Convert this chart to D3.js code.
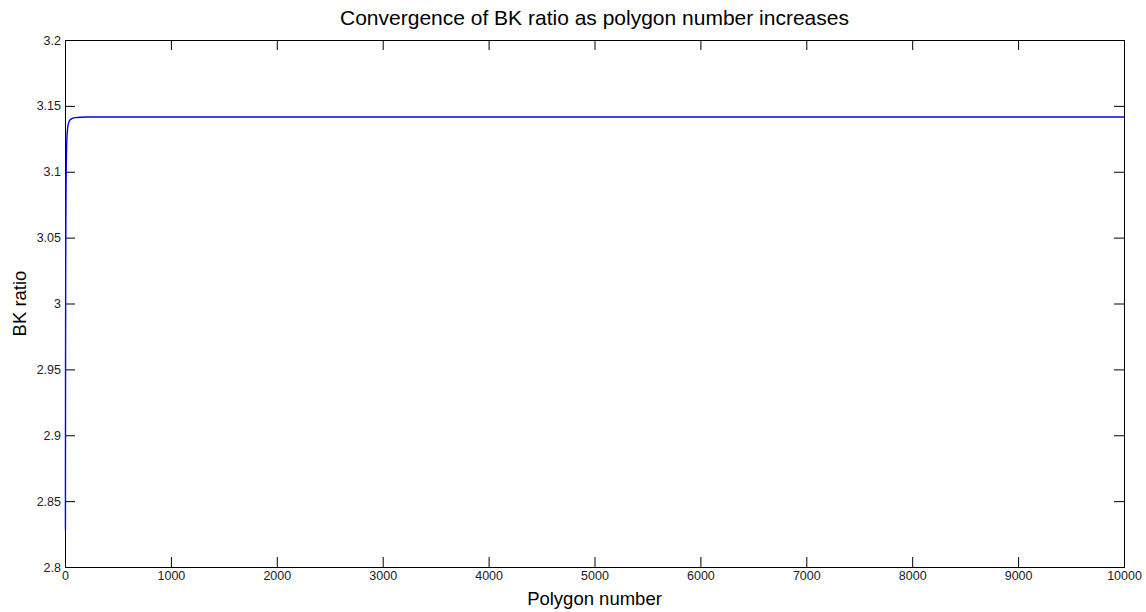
<!DOCTYPE html>
<html>
<head>
<meta charset="utf-8">
<script src="https://cdn.jsdelivr.net/npm/d3@7"></script>
<style>
  body { margin: 0; background: #fff; }
  text { font-family: "Liberation Sans", Arial, sans-serif; }
</style>
</head>
<body>
<div id="canvas"></div>
<script>
  const w = 1146;
  const h = 612;
  const margin = { top: 40, bottom: 45, left: 65, right: 22 };

  // polygon number (sides) and the BK ratio
  const polygonNumber = [4, 5, 6, 7, 8, 10, 12, 15, 20, 25, 30, 40, 50, 70, 100, 150, 200, 400, 1000, 3000, 10000];
  const bkRatio = [2.8284, 2.9389, 3.0, 3.0372, 3.0615, 3.0902, 3.1058, 3.1187, 3.1287, 3.1333, 3.1359, 3.1384, 3.1395, 3.1405, 3.1411, 3.1414, 3.1415, 3.1416, 3.1416, 3.1416, 3.1416];

  const xTicks = [0, 1000, 2000, 3000, 4000, 5000, 6000, 7000, 8000, 9000, 10000];
  const yTicks = [2.8, 2.85, 2.9, 2.95, 3, 3.05, 3.1, 3.15, 3.2];

  const data = polygonNumber.map((n, i) => ({ n: n, r: bkRatio[i] }));

  const width = w - margin.left - margin.right;
  const height = h - margin.top - margin.bottom;

  const svg = d3.select("#canvas").append("svg")
    .attr("width", w)
    .attr("height", h);

  const chart = svg.append("g")
    .attr("transform", "translate(" + margin.left + "," + margin.top + ")");

  const x = d3.scaleLinear().domain([0, 10000]).range([0, width]);
  const y = d3.scaleLinear().domain([2.8, 3.2]).range([height, 0]);

  // ticks point inward on all four sides, labels only bottom/left
  const tickLen = 10;
  function styleAxis(g) {
    g.select(".domain").remove();
    g.selectAll(".tick line").attr("stroke", "#000");
    g.selectAll("text")
      .style("font-size", "12.5px")
      .attr("fill", "#222");
  }

  chart.append("g")
    .attr("transform", "translate(0," + height + ")")
    .call(d3.axisBottom(x).tickValues(xTicks).tickSizeInner(-tickLen).tickSizeOuter(0).tickPadding(4).tickFormat(d3.format("d")))
    .call(styleAxis);

  chart.append("g")
    .call(d3.axisTop(x).tickValues(xTicks).tickSizeInner(-tickLen).tickSizeOuter(0).tickFormat(""))
    .call(styleAxis);

  chart.append("g")
    .call(d3.axisLeft(y).tickValues(yTicks).tickSizeInner(-tickLen).tickSizeOuter(0).tickPadding(4).tickFormat(d => String(+d.toFixed(2))))
    .call(styleAxis);

  chart.append("g")
    .attr("transform", "translate(" + width + ",0)")
    .call(d3.axisRight(y).tickValues(yTicks).tickSizeInner(-tickLen).tickSizeOuter(0).tickFormat(""))
    .call(styleAxis);

  // frame
  chart.append("rect")
    .attr("x", 0.5)
    .attr("y", 0.5)
    .attr("width", width)
    .attr("height", height)
    .attr("fill", "none")
    .attr("stroke", "#000")
    .attr("stroke-width", 1);

  const line = d3.line()
    .x(d => x(d.n))
    .y(d => y(d.r))
    .curve(d3.curveMonotoneX);

  chart.append("path")
    .datum(data)
    .attr("fill", "none")
    .attr("stroke", "#0000ff")
    .attr("stroke-width", 1.4)
    .attr("d", line);

  // titles
  svg.append("text")
    .attr("x", margin.left + width / 2)
    .attr("y", 25)
    .attr("text-anchor", "middle")
    .style("font-size", "21px")
    .attr("fill", "#000")
    .text("Convergence of BK ratio as polygon number increases");

  svg.append("text")
    .attr("x", margin.left + width / 2)
    .attr("y", 605)
    .attr("text-anchor", "middle")
    .style("font-size", "18.5px")
    .attr("fill", "#000")
    .text("Polygon number");

  svg.append("text")
    .attr("transform", "translate(26," + (margin.top + height / 2) + ") rotate(-90)")
    .attr("text-anchor", "middle")
    .style("font-size", "18.5px")
    .attr("fill", "#000")
    .text("BK ratio");
</script>
</body>
</html>
